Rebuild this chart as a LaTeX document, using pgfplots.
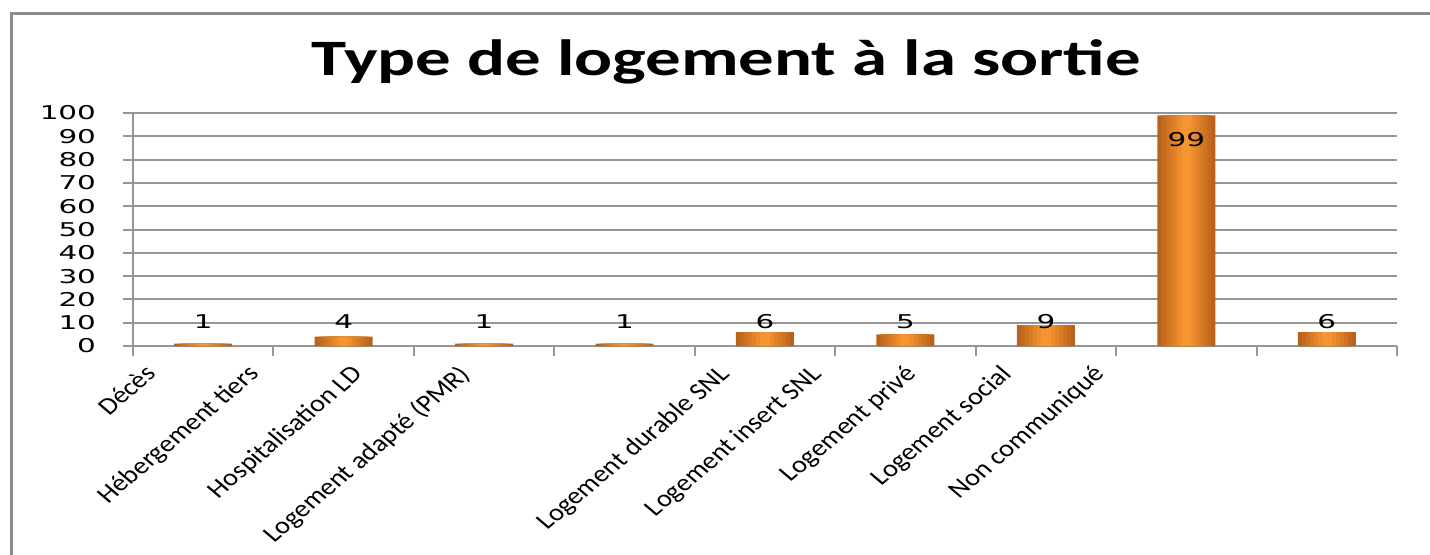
\documentclass[border=0pt]{standalone}
\usepackage{pgfplots}
\usepackage{pgfplotstable}
\pgfplotsset{compat=1.18}
\usepackage{fontspec}
\setmainfont{Carlito}
\newfontfamily\dejavu{DejaVu Sans}
\definecolor{gridgray}{RGB}{150,150,150}
\definecolor{framegray}{RGB}{140,140,140}
\definecolor{barDark}{RGB}{186,98,26}
\definecolor{barLight}{RGB}{245,148,48}
\pgfplotstableread{
x y
0 1
1 4
2 1
3 1
4 6
5 5
6 9
7 99
8 6
}\datatable
\begin{document}
\begin{tikzpicture}[x=1pt,y=1pt]
\useasboundingbox (0,0) rectangle (715,277);
\draw[framegray, line width=1.5pt] (5.5,-2) -- (5.5,270.5) -- (717,270.5);
\node[font=\bfseries\fontsize{25.5}{30}\selectfont, xscale=1.39, anchor=base] at (363,239.5) {Type de logement à la sortie};
\begin{axis}[
  at={(66.5pt,104pt)}, anchor=south west,
  width=632pt, height=116.5pt, scale only axis,
  xmin=-0.5, xmax=8.5, ymin=0, ymax=100,
  ytick={0,10,...,100},
  xtick={-0.5,0.5,...,8.5}, xticklabels={,,,,,,,,,},
  extra x ticks={-0.33,0.40,1.14,1.90,3.75,4.41,5.08,5.76,6.42},
  extra x tick labels={Décès,Hébergement tiers,Hospitalisation LD,Logement adapté (PMR),Logement durable SNL,Logement insert SNL,Logement privé,Logement social,Non communiqué},
  extra x tick style={major tick length=0pt, tick style={draw=none},
    xticklabel style={font=\fontsize{12}{14}\selectfont, xshift=-6.5pt, yshift=-8.5pt, xscale=1.18, rotate=45, anchor=north east, inner sep=0pt}},
  axis x line*=bottom, axis y line*=left,
  axis line style={gridgray, line width=1pt, -},
  tick style={gridgray, line width=1pt},
  tick align=outside, major tick length=5pt,
  ymajorgrids, grid style={gridgray, line width=1pt},
  /pgf/number format/assume math mode=true,
  yticklabel style={font=\dejavu\fontsize{9.5}{11}\selectfont, xshift=-13.2pt, xscale=1.55, anchor=east, inner sep=0pt},
  clip=false,
]
\addplot[ybar, bar shift=0pt, bar width=29pt, draw=none, fill=barDark] table[x=x,y=y] {\datatable};
\addplot[ybar, bar shift=0pt, bar width=25pt, draw=none, fill=barDark!83!barLight] table[x=x,y=y] {\datatable};
\addplot[ybar, bar shift=0pt, bar width=21pt, draw=none, fill=barDark!66!barLight] table[x=x,y=y] {\datatable};
\addplot[ybar, bar shift=0pt, bar width=17pt, draw=none, fill=barDark!50!barLight] table[x=x,y=y] {\datatable};
\addplot[ybar, bar shift=0pt, bar width=13pt, draw=none, fill=barDark!33!barLight] table[x=x,y=y] {\datatable};
\addplot[ybar, bar shift=0pt, bar width=9pt, draw=none, fill=barDark!16!barLight] table[x=x,y=y] {\datatable};
\addplot[ybar, bar shift=0pt, bar width=5pt, draw=none, fill=barLight,
  nodes near coords, visualization depends on={rawy \as \rawy},
  every node near coord/.append style={text=black, font=\dejavu\fontsize{9.5}{11}\selectfont, xscale=1.55, anchor=center,
    yshift={ifthenelse(\rawy>50,-12.35,(10.3-\rawy)*1.165)}}]
  table[x=x,y=y] {\datatable};
\end{axis}
\end{tikzpicture}
\end{document}
